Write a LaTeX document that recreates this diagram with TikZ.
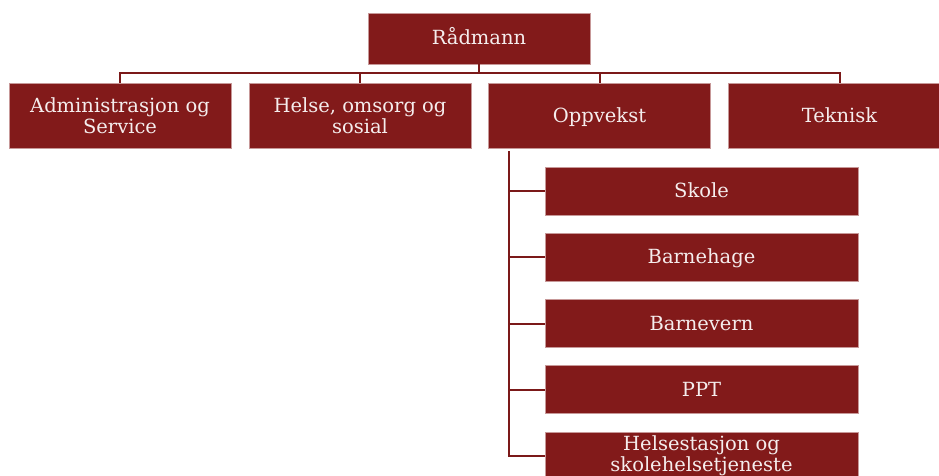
\documentclass[tikz,border=0pt]{standalone}
\usepackage{fontspec}
\setmainfont{DejaVu Serif}
\usepackage{tikz}
\definecolor{wine}{HTML}{821A1A}
\colorlet{wineline}{wine!95!black}
\colorlet{wineedge}{wine!45!white}
\colorlet{winetext}{white!92!wine}

\begin{document}
\begin{tikzpicture}[x=1pt, y=-1pt,
  unit/.style={draw=wineedge, line width=0.6pt, fill=wine, text=winetext,
    align=center, inner sep=0pt, font=\fontsize{19.5}{20.5}\selectfont},
  oneline/.style={text height=15.5pt, text depth=2.5pt},
  dept/.style={unit, minimum width=222pt, minimum height=65pt},
  sub/.style={unit, minimum width=313pt, minimum height=48pt},
  link/.style={draw=wineline, line width=2pt}]
\useasboundingbox (0,0) rectangle (939,476);
\clip (0,0) rectangle (939,476);
% top
\node[unit, oneline, minimum width=222pt, minimum height=51pt] (rad) at (479,38.5) {Rådmann};
% departments
\node[dept] (adm) at (120,115.5) {Administrasjon og\\Service};
\node[dept] (hos) at (360,115.5) {Helse, omsorg og\\sosial};
\node[dept, oneline] (opp) at (599.5,115.5) {Oppvekst};
\node[dept, oneline] (tek) at (839.5,115.5) {Teknisk};
% units under Oppvekst
\node[sub, oneline] (skole) at (701.5,191) {Skole};
\node[sub, oneline] (bhg) at (701.5,257) {Barnehage};
\node[sub, oneline] (bvern) at (701.5,323.5) {Barnevern};
\node[sub, oneline] (ppt) at (701.5,389.5) {PPT};
\node[sub] (hstasj) at (701.5,456) {Helsestasjon og\\skolehelsetjeneste};
% links
\coordinate (bus) at ([yshift=-9pt]rad.south);
\draw[link] (rad.south) -- (bus);
\draw[link] (bus) -| (adm.north);
\draw[link] (bus) -| (hos.north);
\draw[link] (bus) -| (opp.north);
\draw[link] (bus) -| (tek.north);
\coordinate (spine) at ([xshift=21pt,yshift=-3pt]opp.south west);
\draw[link] (spine) |- (skole.west);
\draw[link] (spine) |- (bhg.west);
\draw[link] (spine) |- (bvern.west);
\draw[link] (spine) |- (ppt.west);
\draw[link] (spine) |- (hstasj.west);
\end{tikzpicture}
\end{document}
